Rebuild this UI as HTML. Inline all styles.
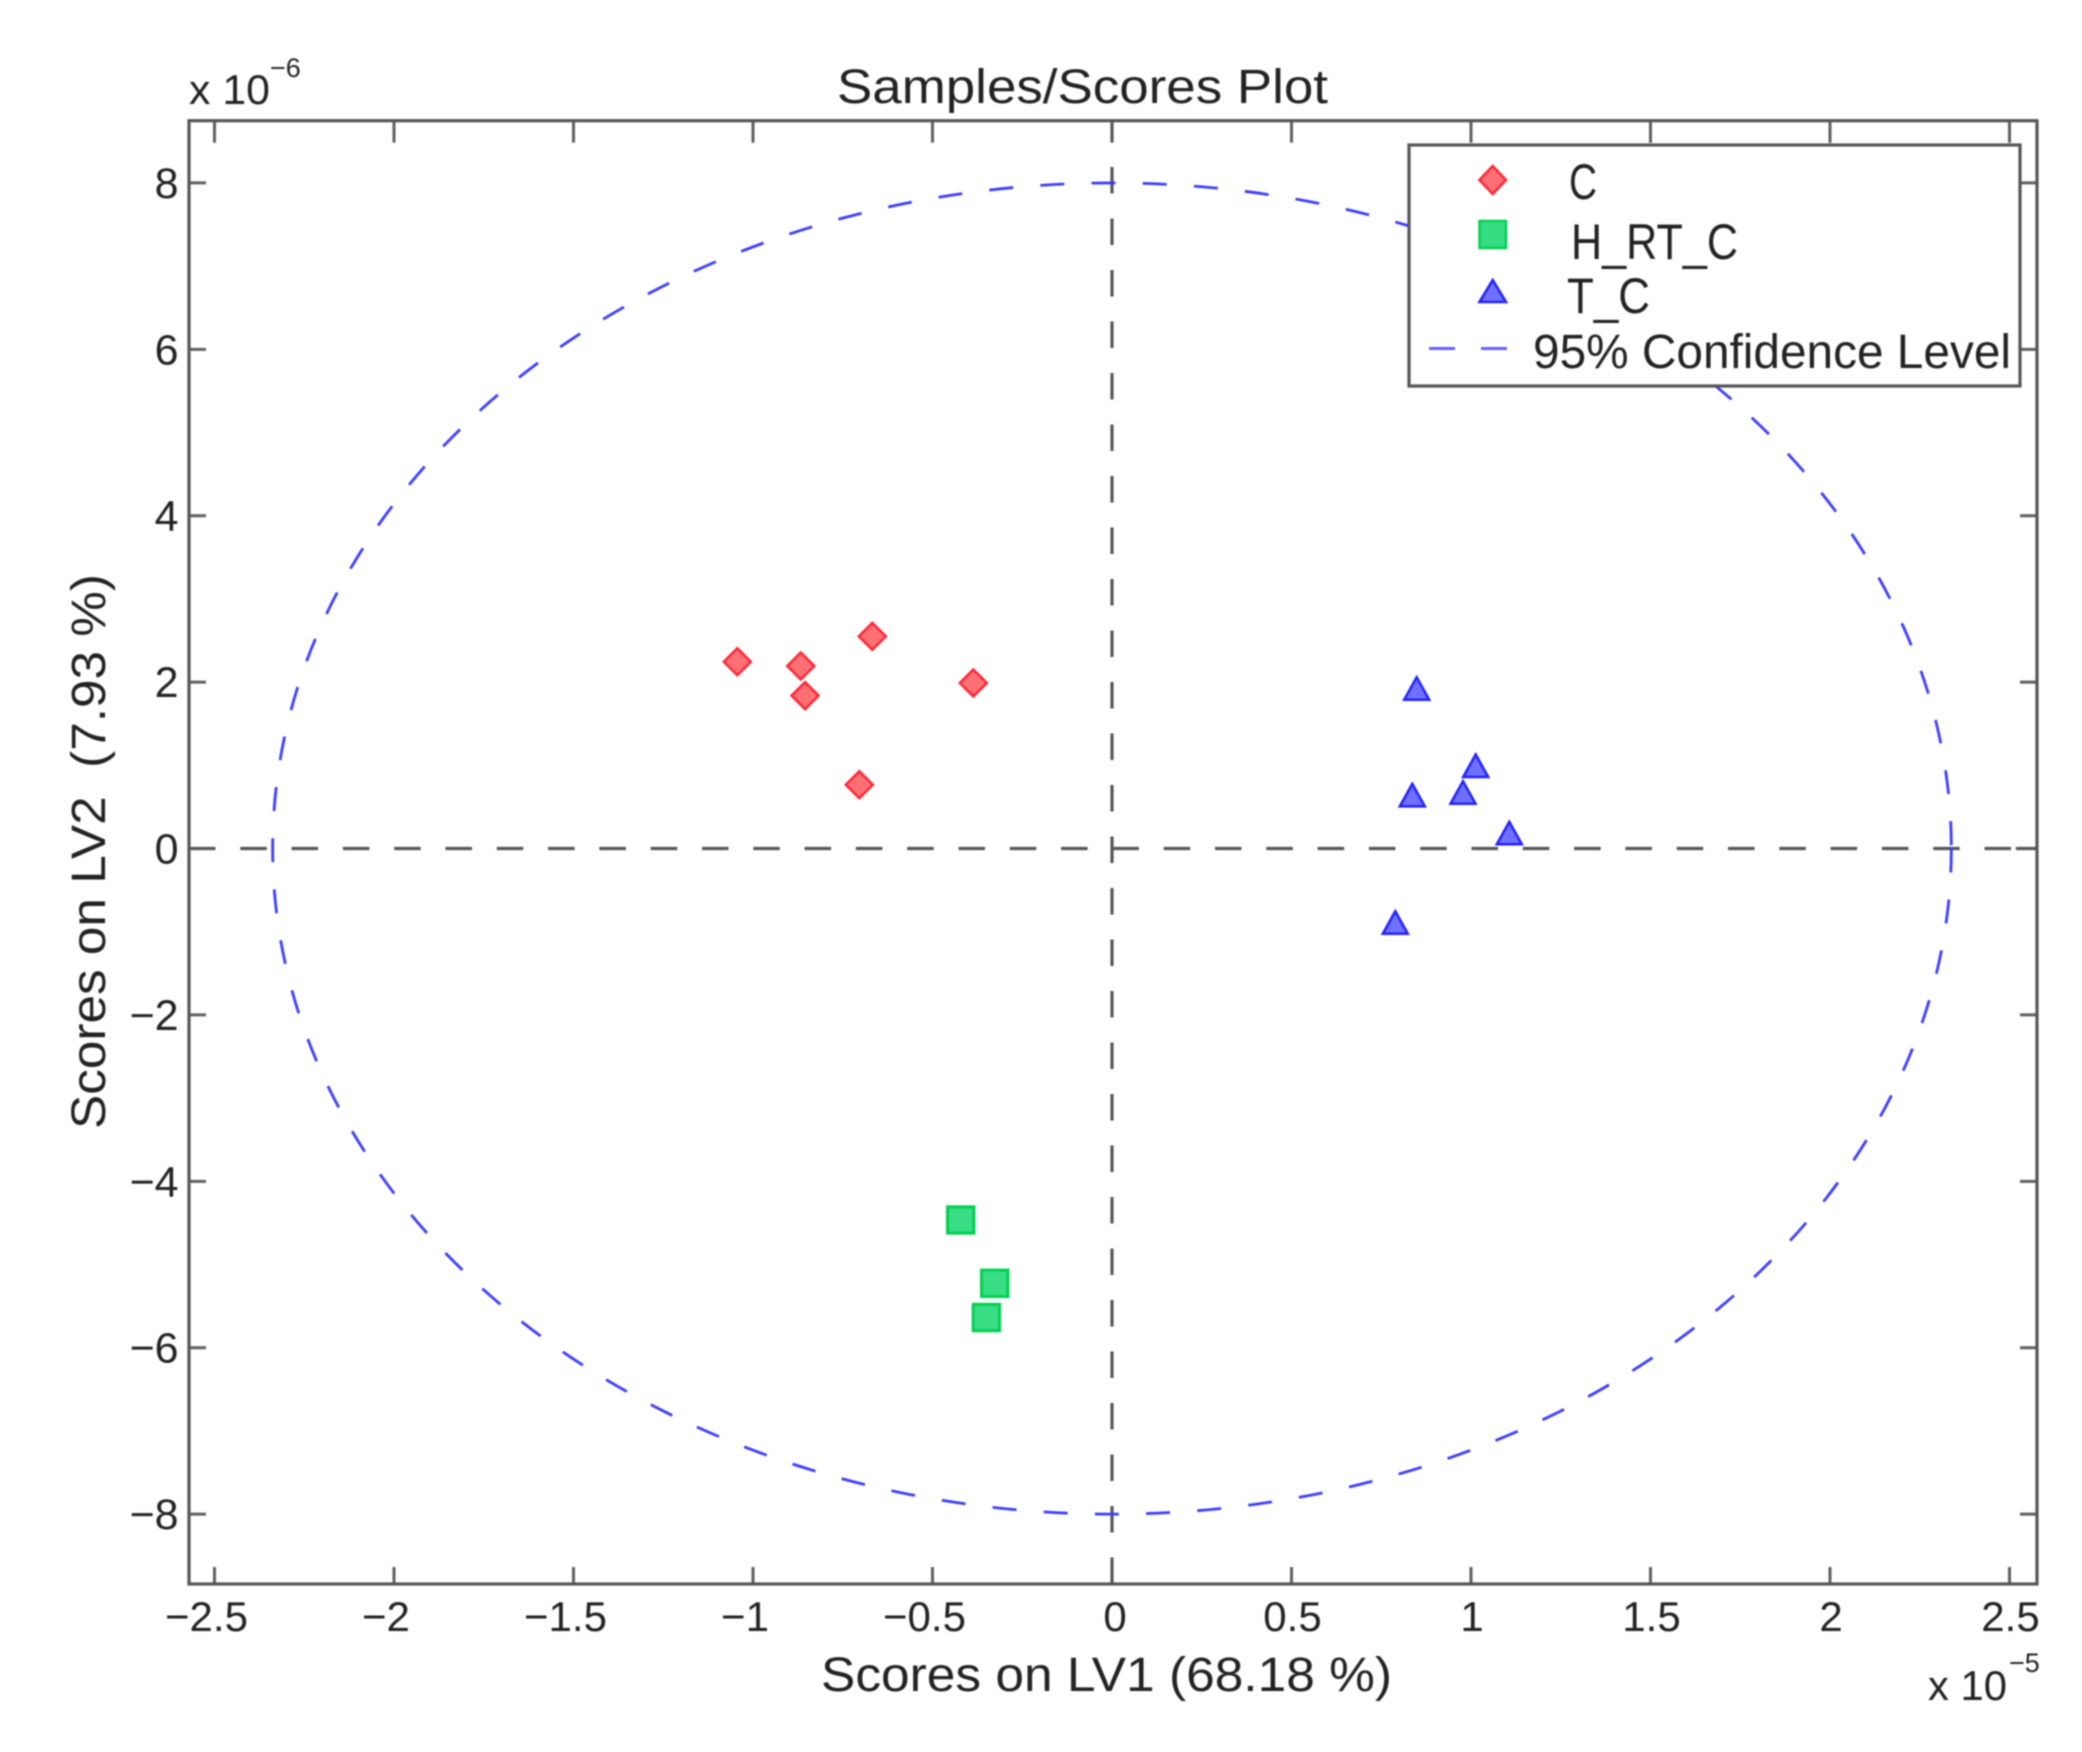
<!DOCTYPE html>
<html lang="en">
<head>
<meta charset="utf-8">
<title>Samples/Scores Plot</title>
<style>
  html, body { margin: 0; padding: 0; background: #fff; }
  body { width: 2082px; height: 1752px; overflow: hidden; }
  svg { display: block; filter: blur(0.7px); }
  text { font-family: "Liberation Sans", sans-serif; fill: #222222; }
</style>
</head>
<body>
<svg id="chart" xmlns="http://www.w3.org/2000/svg" width="2082" height="1752" viewBox="0 0 2082 1752">
  <rect x="0" y="0" width="2082" height="1752" fill="#ffffff"/>
  <g id="ticks"></g>
  <g id="guides"></g>
  <g id="ellipse-layer"></g>
  <g id="marks"></g>
  <rect id="frame" fill="none" stroke="#555555" stroke-width="3.2"/>
  <g id="tick-labels"></g>

  <text x="837" y="103" font-size="48" textLength="491" lengthAdjust="spacingAndGlyphs">Samples/Scores Plot</text>
  <text x="821" y="1691" font-size="48" textLength="571" lengthAdjust="spacingAndGlyphs">Scores on LV1 (68.18 %)</text>
  <text transform="translate(105 1129) rotate(-90)" font-size="48" textLength="555" lengthAdjust="spacingAndGlyphs" xml:space="preserve">Scores on LV2  (7.93 %)</text>

  <g>
    <text x="189" y="104" font-size="42" textLength="81" lengthAdjust="spacingAndGlyphs">x 10</text>
    <text x="270" y="77" font-size="27">&#8722;6</text>
  </g>
  <g>
    <text x="1928" y="1700" font-size="42" textLength="79" lengthAdjust="spacingAndGlyphs">x 10</text>
    <text x="2009" y="1672" font-size="27">&#8722;5</text>
  </g>

  <g>
    <rect x="1409" y="145" width="611" height="241" fill="#ffffff" stroke="#555555" stroke-width="3.2"/>
    <g>
      <polygon points="1492.7,166 1506,180 1492.7,194 1479.4,180" fill="#ff7075" stroke="#ff2535" stroke-width="2.5"/>
      <text x="1569" y="199" font-size="50" textLength="28" lengthAdjust="spacingAndGlyphs">C</text>
    </g>
    <g>
      <rect x="1479.5" y="221" width="26.5" height="27" fill="#35dd80" stroke="#00d050" stroke-width="2.5"/>
      <text x="1571" y="259" font-size="50" textLength="167" lengthAdjust="spacingAndGlyphs">H_RT_C</text>
    </g>
    <g>
      <polygon points="1492.7,280 1506,302 1479.4,302" fill="#7070ff" stroke="#2020ff" stroke-width="2.5"/>
      <text x="1567" y="313" font-size="50" textLength="83" lengthAdjust="spacingAndGlyphs">T_C</text>
    </g>
    <g>
      <line x1="1429" y1="348.5" x2="1507" y2="348.5" stroke="#6060ff" stroke-width="3" stroke-dasharray="26 26"/>
      <text x="1533" y="368" font-size="48" textLength="478" lengthAdjust="spacingAndGlyphs">95% Confidence Level</text>
    </g>
  </g>
</svg>

<script>
/* Axis tick values and labels */
const xTickValues = [-2.5, -2, -1.5, -1, -0.5, 0, 0.5, 1, 1.5, 2, 2.5];
const xTickLabels = ["\u22122.5", "\u22122", "\u22121.5", "\u22121", "\u22120.5", "0", "0.5", "1", "1.5", "2", "2.5"];
const yTickValues = [8, 6, 4, 2, 0, -2, -4, -6, -8];
const yTickLabels = ["8", "6", "4", "2", "0", "\u22122", "\u22124", "\u22126", "\u22128"];

/* Axis limits (x in units of 1e-5, y in units of 1e-6) */
const xDomain = [-2.571, 2.5766];
const yDomain = [-8.84, 8.748];

/* Series values */
const cScoresLV1 = [-1.0437, -0.867, -0.6677, -0.855, -0.3864, -0.7039];
const cScoresLV2 = [2.245, 2.194, 2.55, 1.837, 1.989, 0.767];
const hrtcScoresLV1 = [-0.4214, -0.3267, -0.35];
const hrtcScoresLV2 = [-4.465, -5.226, -5.637];
const tcScoresLV1 = [0.8487, 1.0131, 0.8365, 0.9777, 1.1067, 0.7891];
const tcScoresLV2 = [1.921, 0.992, 0.639, 0.671, 0.183, -0.892];

/* 95% confidence ellipse semi-axes */
const ellipseSemiAxisLV1 = 2.338;
const ellipseSemiAxisLV2 = 8;

const NS = "http://www.w3.org/2000/svg";
const plotLeft = 189, plotRight = 2037, plotTop = 120.7, plotBottom = 1584;

function xScale(v) {
  return plotLeft + (v - xDomain[0]) / (xDomain[1] - xDomain[0]) * (plotRight - plotLeft);
}
function yScale(v) {
  return plotBottom - (v - yDomain[0]) / (yDomain[1] - yDomain[0]) * (plotBottom - plotTop);
}
function make(tag, attrs, parent) {
  const el = document.createElementNS(NS, tag);
  for (const k in attrs) el.setAttribute(k, attrs[k]);
  parent.appendChild(el);
  return el;
}

const frame = document.getElementById("frame");
frame.setAttribute("x", plotLeft);
frame.setAttribute("y", plotTop);
frame.setAttribute("width", plotRight - plotLeft);
frame.setAttribute("height", plotBottom - plotTop);

const ticksG = document.getElementById("ticks");
const labelsG = document.getElementById("tick-labels");
const tickLen = 17;
const tickStyle = { stroke: "#5f5f5f", "stroke-width": 3 };

xTickValues.forEach(function (v, i) {
  const x = xScale(v);
  const bottomTick = make("line", Object.assign({ x1: x, x2: x, y1: plotBottom, y2: plotBottom - tickLen }, tickStyle), ticksG);
  
  
  const topTick = make("line", Object.assign({ x1: x, x2: x, y1: plotTop, y2: plotTop + tickLen + 5 }, tickStyle), ticksG);
  
  
  const shift = v < 0 ? -8 : (v === 0 ? 3 : 1);
  const label = make("text", { x: x + shift, y: 1631, "font-size": 42, "text-anchor": "middle" }, labelsG);
  label.textContent = xTickLabels[i];
  
  
});

yTickValues.forEach(function (v, i) {
  const y = yScale(v);
  const leftTick = make("line", Object.assign({ x1: plotLeft, x2: plotLeft + tickLen, y1: y, y2: y }, tickStyle), ticksG);
  
  
  const rightTick = make("line", Object.assign({ x1: plotRight, x2: plotRight - tickLen, y1: y, y2: y }, tickStyle), ticksG);
  
  
  const label = make("text", { x: 178.6, y: y + 15, "font-size": 43, "text-anchor": "end" }, labelsG);
  label.textContent = yTickLabels[i];
  
  
});

const guidesG = document.getElementById("guides");
const guideStyle = { stroke: "#555555", "stroke-width": 3.2, fill: "none" };
const hGuide = make("line", Object.assign({ x1: plotLeft, x2: plotRight - 25, y1: yScale(0), y2: yScale(0), "stroke-dasharray": "26.5 24.8" }, guideStyle), guidesG);


const hGuideEnd = make("line", Object.assign({ x1: plotRight - 21, x2: plotRight, y1: yScale(0), y2: yScale(0) }, guideStyle), guidesG);


const vGuide = make("line", Object.assign({ x1: xScale(0), x2: xScale(0), y1: plotBottom, y2: plotTop, "stroke-dasharray": "26.5 25" }, guideStyle), guidesG);



const ellipseEl = make("ellipse", {
  cx: xScale(0),
  cy: yScale(0),
  rx: xScale(ellipseSemiAxisLV1) - xScale(0),
  ry: yScale(0) - yScale(ellipseSemiAxisLV2),
  fill: "none",
  stroke: "#3c3cff",
  "stroke-width": 2.8,
  "stroke-dasharray": "24 27.26"
}, document.getElementById("ellipse-layer"));



const marksG = document.getElementById("marks");

cScoresLV1.forEach(function (v, i) {
  const x = xScale(v), y = yScale(cScoresLV2[i]);
  const pts = [x, y - 13.5, x + 13.5, y, x, y + 13.5, x - 13.5, y].join(" ");
  const d = make("polygon", { points: pts, fill: "#ff7075", stroke: "#ff2535", "stroke-width": 2.5 }, marksG);
  
  
});

hrtcScoresLV1.forEach(function (v, i) {
  const x = xScale(v), y = yScale(hrtcScoresLV2[i]);
  const s = make("rect", { x: x - 13.2, y: y - 13.2, width: 26.4, height: 26.4, fill: "#38dd85", stroke: "#00d050", "stroke-width": 3 }, marksG);
  
  
});

tcScoresLV1.forEach(function (v, i) {
  const x = xScale(v), y = yScale(tcScoresLV2[i]);
  const pts = [x, y - 11.5, x + 12.5, y + 11, x - 12.5, y + 11].join(" ");
  const t = make("polygon", { points: pts, fill: "#7070ff", stroke: "#2020ff", "stroke-width": 2.5 }, marksG);
  
  
});
</script>
</body>
</html>
